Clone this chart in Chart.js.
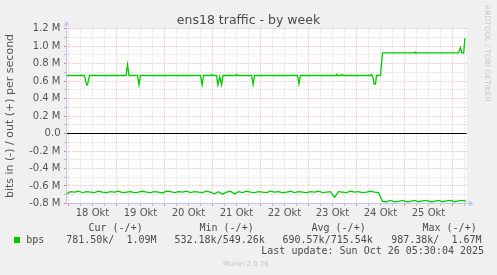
<!DOCTYPE html>
<html><head><meta charset="utf-8">
<script src="https://cdn.jsdelivr.net/npm/chart.js@4.4.0/dist/chart.umd.min.js"></script>
<style>html,body{margin:0;padding:0;background:#f0f0f0;}canvas{display:block;}</style>
</head><body>
<canvas id="c" width="497" height="275"></canvas>
<script>
// ---- data (hours since 18 Okt 00:00, values in M bits/s) ----
const dayLabels = ['18 Okt','19 Okt','20 Okt','21 Okt','22 Okt','23 Okt','24 Okt','25 Okt'];
const dayLabelHours = [12,36,60,84,108,132,156,180];
const yTickValues = [-0.8,-0.6,-0.4,-0.2,0,0.2,0.4,0.6,0.8,1.0,1.2];

const outHours = [-1,8,9,9.5,10.5,28.75,29.5,30.25,34.5,35.25,36,66,66.8,67.5,71,71.5,72,74,74.7,75.6,76.5,77.3,83.5,84,84.5,91.5,92.3,93,114.5,115.2,116,133.8,134.2,134.7,136.2,136.7,137.2,151,151.5,152.3,152.8,153.5,154,156,157,173,173.3,173.7,195,196,196.6,197.6,198.2];
const outValues = [0.663,0.663,0.555,0.555,0.663,0.663,0.79,0.663,0.663,0.555,0.663,0.663,0.555,0.663,0.663,0.675,0.663,0.663,0.555,0.65,0.555,0.663,0.663,0.675,0.663,0.663,0.56,0.663,0.663,0.565,0.663,0.663,0.675,0.663,0.663,0.675,0.663,0.663,0.675,0.64,0.565,0.565,0.663,0.663,0.922,0.922,0.932,0.922,0.922,0.98,0.922,0.922,1.09];

const inStartHour = -1;
const inStepHours = 2;
const inValues = [
-0.69,-0.665,-0.67,-0.66,-0.675,-0.665,-0.67,-0.675,-0.66,-0.67,
-0.675,-0.665,-0.67,-0.66,-0.675,-0.67,-0.665,-0.675,-0.67,-0.66,
-0.67,-0.675,-0.665,-0.67,-0.68,-0.66,-0.665,-0.675,-0.665,-0.67,
-0.66,-0.675,-0.665,-0.67,-0.675,-0.66,-0.67,-0.69,-0.665,-0.695,
-0.67,-0.66,-0.69,-0.665,-0.675,-0.66,-0.67,-0.675,-0.665,-0.67,
-0.675,-0.66,-0.67,-0.665,-0.675,-0.67,-0.66,-0.675,-0.665,-0.67,
-0.675,-0.665,-0.67,-0.66,-0.675,-0.67,-0.665,-0.73,-0.665,-0.67,
-0.675,-0.66,-0.67,-0.665,-0.675,-0.67,-0.66,-0.67,-0.675,-0.775,
-0.78,-0.765,-0.78,-0.775,-0.765,-0.78,-0.775,-0.765,-0.78,-0.77,
-0.765,-0.78,-0.775,-0.765,-0.78,-0.77,-0.765,-0.78,-0.77,-0.765,
-0.775];

const legendHeaders = ['Cur (-/+)','Min (-/+)','Avg (-/+)','Max (-/+)'];
const legendValues = ['781.50k/  1.09M','532.18k/549.26k','690.57k/715.54k','987.38k/  1.67M'];
const seriesName = 'bps';
const titleText = 'ens18 traffic - by week';
const lastUpdate = 'Last update: Sun Oct 26 05:30:04 2025';

// ---- styling ----
const GREEN = '#00cc00';
const TXT = '#4a4a4a';
const AXIS = '#c2c6f0';
const MAJ = '#eba0a0';
const MIN = '#cfcfcf';

function snap(p){ return Math.floor(p) + 0.5; }

const rrdPlugin = {
  id: 'rrd',
  beforeDraw(chart){
    const {ctx, chartArea: a} = chart;
    ctx.save();
    ctx.fillStyle = '#f0f0f0';
    ctx.fillRect(0,0,chart.width,chart.height);
    ctx.fillStyle = '#ffffff';
    ctx.fillRect(a.left, a.top, a.right-a.left, a.bottom-a.top);
    ctx.restore();
  },
  beforeDatasetsDraw(chart){
    const {ctx, chartArea: a, scales: {x, y}} = chart;
    ctx.save();
    ctx.lineWidth = 1;
    ctx.setLineDash([1,2]);
    // minor horizontal every 0.1M
    for (let k=-8;k<=12;k++){
      const py = snap(y.getPixelForValue(k/10));
      ctx.strokeStyle = (k%2===0) ? MAJ : MIN;
      ctx.beginPath(); ctx.moveTo(a.left, py); ctx.lineTo(a.right, py); ctx.stroke();
    }
    for (let h=0; h<=198; h+=6){
      const px = snap(x.getPixelForValue(h));
      ctx.strokeStyle = (h%24===0) ? MAJ : MIN;
      ctx.beginPath(); ctx.moveTo(px, a.top); ctx.lineTo(px, a.bottom); ctx.stroke();
    }
    ctx.setLineDash([]);
    // ticks outside the axes
    for (let h=0; h<=198; h+=6){
      const px = snap(x.getPixelForValue(h));
      ctx.strokeStyle = (h%24===0) ? '#e08080' : '#bbbbbb';
      ctx.beginPath(); ctx.moveTo(px, a.bottom); ctx.lineTo(px, a.bottom+2.5); ctx.stroke();
    }
    for (let k=-8;k<=12;k++){
      const py = snap(y.getPixelForValue(k/10));
      ctx.strokeStyle = (k%2===0) ? '#e08080' : '#bbbbbb';
      ctx.beginPath(); ctx.moveTo(a.left-2.5, py); ctx.lineTo(a.left, py); ctx.stroke();
    }
    // zero line
    const zy = snap(y.getPixelForValue(0));
    ctx.strokeStyle = '#000000';
    ctx.beginPath(); ctx.moveTo(a.left, zy); ctx.lineTo(a.right, zy); ctx.stroke();
    // axes with arrows
    const ax = snap(a.left), by = snap(a.bottom);
    ctx.strokeStyle = AXIS; ctx.fillStyle = AXIS;
    ctx.beginPath(); ctx.moveTo(ax, by); ctx.lineTo(ax, a.top-4); ctx.stroke();
    ctx.beginPath(); ctx.moveTo(ax, by); ctx.lineTo(a.right+3, by); ctx.stroke();
    ctx.beginPath(); ctx.moveTo(ax, a.top-7.5); ctx.lineTo(ax-3, a.top-3); ctx.lineTo(ax+3, a.top-3); ctx.closePath(); ctx.fill();
    ctx.beginPath(); ctx.moveTo(a.right+7, by); ctx.lineTo(a.right+2.5, by-3); ctx.lineTo(a.right+2.5, by+3); ctx.closePath(); ctx.fill();
    ctx.restore();
  },
  afterDraw(chart){
    const {ctx} = chart;
    ctx.save();
    // title
    ctx.fillStyle = TXT;
    ctx.font = '12.5px "DejaVu Sans"';
    ctx.textAlign = 'center'; ctx.textBaseline = 'alphabetic';
    ctx.fillText(titleText, 248.5, 24);
    // watermark
    ctx.save();
    ctx.translate(484.5, 5);
    ctx.rotate(Math.PI/2);
    ctx.font = '7.5px "DejaVu Sans"';
    ctx.fillStyle = '#c8c8c8';
    ctx.textAlign = 'left'; ctx.textBaseline = 'alphabetic';
    ctx.fillText('RRDTOOL / TOBI OETIKER', 0, 0);
    ctx.restore();
    // legend
    ctx.font = '10px "DejaVu Sans Mono"';
    ctx.fillStyle = TXT;
    ctx.textAlign = 'left'; ctx.textBaseline = 'alphabetic';
    const hx = [88.5, 199.5, 311.5, 422.5];
    legendHeaders.forEach((t,i)=>ctx.fillText(t, hx[i], 231));
    const vx = [66.2, 174.5, 282.5, 391.2];
    legendValues.forEach((t,i)=>ctx.fillText(t, vx[i], 242.5));
    ctx.fillText(seriesName, 26.3, 242.5);
    ctx.fillText(lastUpdate, 261.3, 254);
    ctx.fillStyle = GREEN;
    ctx.fillRect(14, 237, 6, 6);
    // munin version
    ctx.font = '7px "DejaVu Sans"';
    ctx.fillStyle = '#c4c4c4';
    ctx.fillText('Munin 2.0.76', 223, 266);
    ctx.restore();
  }
};

const tickFont = {family: 'DejaVu Sans', size: 10};

new Chart(document.getElementById('c').getContext('2d'), {
  type: 'line',
  data: {
    datasets: [
      {label: 'out', data: outHours.map((h,i)=>({x:h, y:outValues[i]})),
       borderColor: GREEN, borderWidth: 1.3, pointRadius: 0, tension: 0, fill: false},
      {label: 'in', data: inValues.map((v,i)=>({x: inStartHour + i*inStepHours, y: v})),
       borderColor: GREEN, borderWidth: 1.3, pointRadius: 0, tension: 0, fill: false}
    ]
  },
  options: {
    responsive: false, animation: false, devicePixelRatio: 1,
    layout: {padding: {left: 0, top: 28.5, right: 30.5, bottom: 0}},
    plugins: {legend: {display: false}, tooltip: {enabled: false}, title: {display: false}},
    scales: {
      x: {
        type: 'linear', min: -1, max: 199,
        grid: {display: false, drawTicks: false}, border: {display: false},
        afterBuildTicks: s => { s.ticks = dayLabelHours.map(v => ({value: v})); },
        afterFit: s => { s.height = 71.5; },
        ticks: {autoSkip: false, maxRotation: 0, minRotation: 0, padding: 4, color: '#555', font: tickFont,
                callback: (v, i) => dayLabels[i]}
      },
      y: {
        type: 'linear', min: -0.8, max: 1.2,
        grid: {display: false, drawTicks: false}, border: {display: false},
        afterBuildTicks: s => { s.ticks = yTickValues.map(v => ({value: v})); },
        afterFit: s => { s.width = 66.5; },
        ticks: {padding: 6, color: '#555', font: tickFont,
                callback: v => (v === 0 ? '0.0' : v.toFixed(1) + ' M')},
        title: {display: true, text: 'bits in (-) / out (+) per second', color: '#555',
                font: {family: 'DejaVu Sans', size: 11}, padding: {top: 4, bottom: 0}}
      }
    }
  },
  plugins: [rrdPlugin]
});
</script>
</body></html>
